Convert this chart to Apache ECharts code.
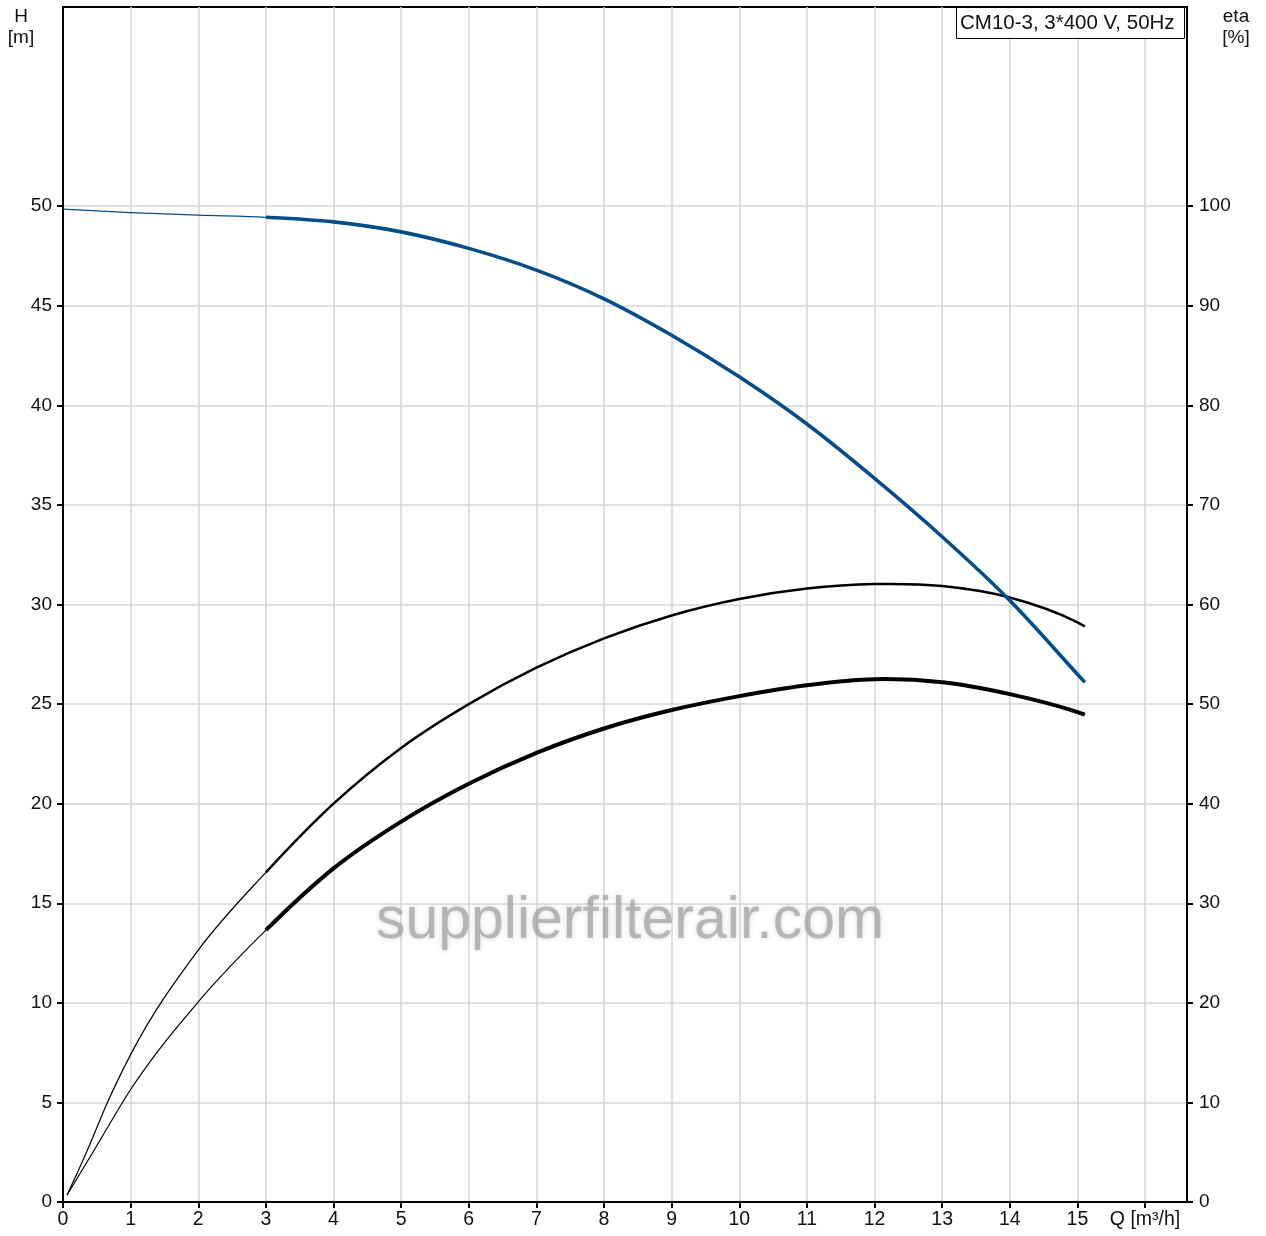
<!DOCTYPE html>
<html>
<head>
<meta charset="utf-8">
<script src="https://cdn.jsdelivr.net/npm/echarts@6/dist/echarts.min.js"></script>
<style>
html,body{margin:0;padding:0;background:#fff;}
#chart{width:1266px;height:1236px;}
</style>
</head>
<body>
<div id="chart"></div>
<script>
// ---- data ----
const titleText = 'CM10-3, 3*400 V, 50Hz';
const xTickLabels = ['0','1','2','3','4','5','6','7','8','9','10','11','12','13','14','15','Q [m³/h]'];
const hTickLabels = ['0','5','10','15','20','25','30','35','40','45','50'];
const etaTickLabels = ['0','10','20','30','40','50','60','70','80','90','100'];

// Head curve H [m]
const headThinQ = [0, 1, 2, 3];
const headThinH = [49.85, 49.68, 49.55, 49.44];
const headQ = [3, 4, 5, 6, 7, 8, 9, 10, 11, 12, 13, 14, 15, 15.11];
const headH = [49.44, 49.21, 48.71, 47.88, 46.79, 45.35, 43.52, 41.43, 39.06, 36.33, 33.4, 30.2, 26.5, 26.09];

// Efficiency curve (upper) eta [%]
const etaThinQ = [0.06, 0.36, 0.67, 1, 2, 3];
const etaThinV = [0.7, 5.2, 10.2, 14.8, 25.3, 33.1];
const etaQ = [3, 4, 5, 6, 7, 8, 9, 10, 11, 12, 13, 14, 15, 15.11];
const etaV = [33.1, 40.0, 45.6, 50.0, 53.65, 56.6, 58.9, 60.55, 61.6, 62.05, 61.85, 60.7, 58.2, 57.8];

// Efficiency curve (lower) eta [%]
const eta2ThinQ = [0.06, 0.46, 1, 2, 3];
const eta2ThinV = [0.7, 5.2, 11.3, 20.1, 27.3];
const eta2Q = [3, 4, 5, 6, 7, 8, 9, 10, 11, 12, 13, 14, 15, 15.11];
const eta2V = [27.3, 33.5, 38.2, 42.0, 45.1, 47.55, 49.4, 50.8, 51.9, 52.5, 52.2, 51.0, 49.2, 48.95];

const FONT = 'Liberation Sans, Arial, sans-serif';
const BLUE = '#054d88';
const GRID = '#d3d6d9';

// derivative of the parabola through three data points, evaluated at x
function parabolaSlope(x0, y0, x1, y1, x2, y2, x) {
  const d01 = (y1 - y0) / (x1 - x0);
  const d12 = (y2 - y1) / (x2 - x1);
  const a = (d12 - d01) / (x2 - x0);
  return d01 + a * ((x - x0) + (x - x1));
}
function slopes(xs, ys) {
  const n = xs.length, m = [];
  for (let i = 0; i < n; i++) {
    if (n < 3) { m.push((ys[n-1]-ys[0])/(xs[n-1]-xs[0])); continue; }
    const j = Math.min(Math.max(i - 1, 0), n - 3);
    m.push(parabolaSlope(xs[j], ys[j], xs[j+1], ys[j+1], xs[j+2], ys[j+2], xs[i]));
  }
  return m;
}
// smooth cubic path through the data points, positioned by the chart's own axes
function curveSeries(name, thinQ, thinV, thickQ, thickV, yIdx, color, thinW, thickW, z) {
  const xs = thinQ.concat(thickQ.slice(1));
  const ys = thinV.concat(thickV.slice(1));
  const m = slopes(xs, ys);
  const split = thinQ.length - 1;
  const mk = (from, to, width) => ({
    name, type: 'custom', coordinateSystem: 'cartesian2d', xAxisIndex: 0, yAxisIndex: yIdx,
    silent: true, z, clip: false,
    data: xs.slice(from, to + 1).map((x, k) => [x, ys[from + k]]),
    encode: {x: 0, y: 1},
    renderItem: (params, api) => {
      if (params.dataIndex !== 0) return null;
      let p = api.coord([xs[from], ys[from]]);
      let d = 'M' + p[0] + ' ' + p[1];
      for (let i = from; i < to; i++) {
        const h = xs[i+1] - xs[i];
        const c1 = api.coord([xs[i] + h/3, ys[i] + m[i]*h/3]);
        const c2 = api.coord([xs[i+1] - h/3, ys[i+1] - m[i+1]*h/3]);
        const e = api.coord([xs[i+1], ys[i+1]]);
        d += ' C' + c1[0] + ' ' + c1[1] + ' ' + c2[0] + ' ' + c2[1] + ' ' + e[0] + ' ' + e[1];
      }
      return {type: 'path', shape: {pathData: d}, style: {stroke: color, lineWidth: width, fill: null, lineCap: 'butt', lineJoin: 'round'}};
    }
  });
  return [mk(0, split, thinW), mk(split, xs.length - 1, thickW)];
}

const chart = echarts.init(document.getElementById('chart'), null, {renderer: 'canvas'});

chart.setOption({
  animation: false,
  backgroundColor: '#fff',
  title: {
    text: titleText,
    left: 956, top: 7,
    padding: [6, 10, 5, 4],
    borderColor: '#000', borderWidth: 1,
    backgroundColor: '#fff',
    textStyle: {fontFamily: FONT, fontSize: 20.5, fontWeight: 'normal', color: '#111', lineHeight: 21}
  },
  grid: {
    left: 63, right: 79, top: 7, bottom: 34,
    show: true, borderColor: '#000', borderWidth: 2, backgroundColor: 'transparent'
  },
  xAxis: [{
    type: 'value', min: 0, max: 16.62, interval: 1,
    axisLine: {show: true, onZero: false, lineStyle: {color: '#000', width: 2}},
    axisTick: {show: true, length: 6, inside: false, lineStyle: {color: '#000', width: 2},
      customValues: xTickLabels.map((_, i) => i)},
    axisLabel: {
      show: true, margin: 8, color: '#111', fontFamily: FONT, fontSize: 19.5,
      customValues: xTickLabels.map((_, i) => i),
      formatter: v => { const i = Math.round(v); return (Math.abs(v - i) < 1e-6 && i < xTickLabels.length) ? xTickLabels[i] : ''; }
    },
    splitLine: {show: true, lineStyle: {color: GRID, width: 1.5}}
  }],
  yAxis: [{
    type: 'value', min: 0, max: 60, interval: 5, position: 'left',
    axisLine: {show: true, onZero: false, lineStyle: {color: '#000', width: 2}},
    axisTick: {show: true, length: 6, lineStyle: {color: '#000', width: 2},
      customValues: hTickLabels.map(Number)},
    axisLabel: {
      show: true, margin: 11, color: '#111', fontFamily: FONT, fontSize: 19,
      customValues: hTickLabels.map(Number),
      formatter: v => hTickLabels.indexOf(String(v)) >= 0 ? String(v) : ''
    },
    splitLine: {show: true, lineStyle: {color: GRID, width: 1.5}}
  }, {
    type: 'value', min: 0, max: 120, interval: 10, position: 'right',
    axisLine: {show: true, onZero: false, lineStyle: {color: '#000', width: 2}},
    axisTick: {show: true, length: 6, lineStyle: {color: '#000', width: 2},
      customValues: etaTickLabels.map(Number)},
    axisLabel: {
      show: true, margin: 12, color: '#111', fontFamily: FONT, fontSize: 19,
      customValues: etaTickLabels.map(Number),
      formatter: v => etaTickLabels.indexOf(String(v)) >= 0 ? String(v) : ''
    },
    splitLine: {show: false}
  }],
  graphic: [
    {type: 'text', x: 21, y: 17, style: {text: 'H', fontFamily: FONT, fontSize: 19, fill: '#111', align: 'center', verticalAlign: 'middle'}},
    {type: 'text', x: 21, y: 38, style: {text: '[m]', fontFamily: FONT, fontSize: 19, fill: '#111', align: 'center', verticalAlign: 'middle'}},
    {type: 'text', x: 1236, y: 17, style: {text: 'eta', fontFamily: FONT, fontSize: 19, fill: '#111', align: 'center', verticalAlign: 'middle'}},
    {type: 'text', x: 1236, y: 38, style: {text: '[%]', fontFamily: FONT, fontSize: 19, fill: '#111', align: 'center', verticalAlign: 'middle'}},
    {type: 'text', x: 630, y: 922, z: 1, style: {text: 'supplierfilterair.com', fontFamily: FONT, fontSize: 59,
      fill: 'rgba(160,160,160,0.7)', align: 'center', verticalAlign: 'middle', textShadowColor: 'rgba(160,160,160,0.6)', textShadowBlur: 5}}
  ],
  series: [].concat(
    curveSeries('eta', etaThinQ, etaThinV, etaQ, etaV, 1, '#000', 1.2, 2.5, 3),
    curveSeries('eta2', eta2ThinQ, eta2ThinV, eta2Q, eta2V, 1, '#000', 1.2, 4, 3),
    curveSeries('H', headThinQ, headThinH, headQ, headH, 0, BLUE, 1.2, 3.6, 5)
  )
});
</script>
</body>
</html>
